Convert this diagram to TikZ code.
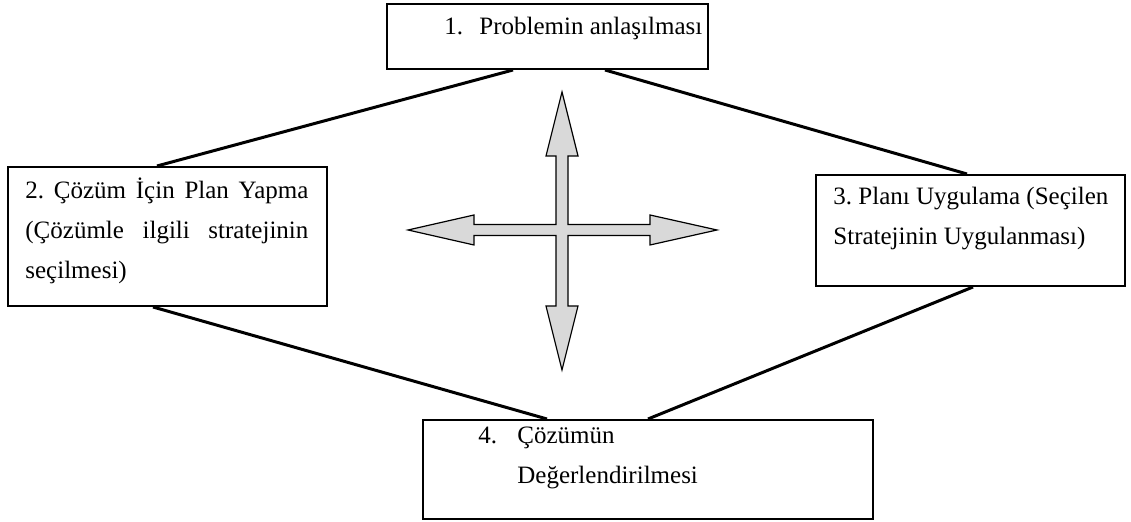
\documentclass[tikz,border=0pt]{standalone}
\usepackage{fontspec}
\setmainfont{Liberation Serif}
\usetikzlibrary{calc}
\frenchspacing

\begin{document}
\begin{tikzpicture}[
        x=0.5pt, y=-0.5pt,
        kutu/.style={rectangle, draw, line width=1pt, inner sep=0pt},
        yazi/.style={inner sep=0pt, anchor=base west, font=\fontsize{12.5}{20}\selectfont},
        baglanti/.style={line width=1.5pt},
        okcizgi/.style={draw, line width=0.6pt, fill=gray!30, line join=miter}
    ]
        \useasboundingbox (0,0) rectangle (1131,522);

        % Kutular
        \node[kutu, minimum width=160.5pt, minimum height=32.5pt] (p1) at (547.5,36.5) {};
        \node[kutu, minimum width=159.5pt, minimum height=69.5pt] (p2) at (167.5,236.5) {};
        \node[kutu, minimum width=154.5pt, minimum height=55.5pt] (p3) at (970.5,230.5) {};
        \node[kutu, minimum width=225pt, minimum height=49.5pt] (p4) at (648,469.5) {};

        % Metinler
        \node[yazi] (p1text) at (444,35) {\makebox[17.5pt][l]{1.}Problemin anlaşılması};
        \node[yazi] (p2text) at (25,199)
            {\parbox[t]{141.5pt}{2. Çözüm İçin Plan Yapma\linebreak (Çözümle ilgili stratejinin\linebreak seçilmesi)}};
        \node[yazi] (p3text) at (833,205)
            {\parbox[t]{145pt}{3. Planı Uygulama (Seçilen\\Stratejinin Uygulanması)}};
        \node[yazi] (p4text) at (478,444)
            {\parbox[t]{120pt}{\makebox[19.5pt][l]{4.}Çözümün\\\hspace*{19.5pt}Değerlendirilmesi}};

        % Bağlantılar
        \draw[baglanti] ($(p1.south)+(-34.5,0)$) -- ($(p2.north)+(-10.5,0)$);
        \draw[baglanti] ($(p1.south)+(57.5,0)$) -- ($(p3.north)+(-3.5,0)$);
        \draw[baglanti] ($(p2.south)+(-14.5,0)$) -- ($(p4.north)+(-101,0)$);
        \draw[baglanti] ($(p3.south)+(2.5,0)$) -- (p4.north);

        % Dört yönlü ok
        \path[okcizgi] (562,92) -- (578,156) -- (568,156) -- (568,224.5) -- (650,224.5)
            -- (650,215) -- (717,230) -- (650,245) -- (650,235.5) -- (568,235.5)
            -- (568,306) -- (578,306) -- (562,370) -- (546,306) -- (556,306)
            -- (556,235.5) -- (474,235.5) -- (474,245) -- (408,230) -- (474,215)
            -- (474,224.5) -- (556,224.5) -- (556,156) -- (546,156) -- cycle;
    \end{tikzpicture}
\end{document}
